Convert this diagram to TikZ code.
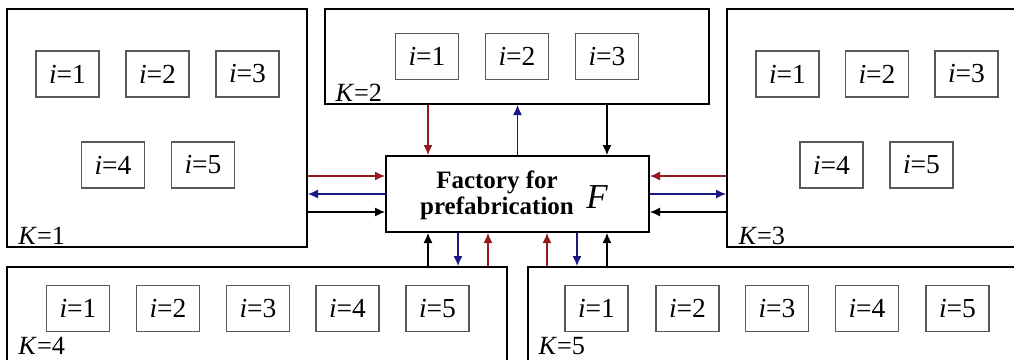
\documentclass[tikz,border=0pt]{standalone}
\usepackage{fontspec}
\setmainfont{Liberation Serif}
\usetikzlibrary{arrows.meta, positioning, calc}
\definecolor{flowred}{RGB}{150,25,30}
\definecolor{flowblue}{RGB}{25,25,130}

\begin{document}
\begin{tikzpicture}[x=0.4pt, y=-0.4pt,
    site/.style={draw, line width=0.8pt, inner sep=0pt},
    unit/.style={draw=black!65, line width=0.5pt, minimum width=25.2pt, minimum height=18.4pt, inner sep=0pt, font=\fontsize{11}{13}\selectfont},
    tag/.style={anchor=base west, inner sep=0pt, font=\fontsize{10.5}{12}\selectfont},
    flow/.style={-{Latex[length=4pt, width=3.6pt]}, line width=0.5pt}]
    \clip (0,0) rectangle (1014,360);
    % sites K=1..5
    \node[site, minimum width=120pt, minimum height=95.2pt] (k1) at (157,128) {};
    \node[site, minimum width=153.6pt, minimum height=38pt] (k2) at (517,56.5) {};
    \node[site, minimum width=121.2pt, minimum height=95.2pt] (k3) at (878.5,128) {};
    \node[site, minimum width=200pt, minimum height=49.2pt] (k4) at (257,328.5) {};
    \node[site, minimum width=200.8pt, minimum height=49.2pt] (k5) at (779,328.5) {};
    \node[tag] (k1lab) at (18,244) {\textit{K}=1};
    \node[tag] (k2lab) at (335,101) {\textit{K}=2};
    \node[tag] (k3lab) at (738,244) {\textit{K}=3};
    \node[tag] (k4lab) at (18,354) {\textit{K}=4};
    \node[tag] (k5lab) at (538,354) {\textit{K}=5};
    % units i
    \foreach \n/\x in {1/67.5, 2/157.5, 3/247.5}
        \node[unit] (k1u\n) at (\x,74) {\textit{i}=\n};
    \foreach \n/\x in {4/113, 5/203}
        \node[unit] (k1u\n) at (\x,165) {\textit{i}=\n};
    \foreach \n/\x in {1/427, 2/517, 3/607}
        \node[unit] (k2u\n) at (\x,56.5) {\textit{i}=\n};
    \foreach \n/\x in {1/787.5, 2/877, 3/966.5}
        \node[unit] (k3u\n) at (\x,74) {\textit{i}=\n};
    \foreach \n/\x in {4/831.5, 5/921.5}
        \node[unit] (k3u\n) at (\x,165) {\textit{i}=\n};
    \foreach \n/\x in {1/78, 2/168, 3/258, 4/347.5, 5/437.5}
        \node[unit] (k4u\n) at (\x,308.5) {\textit{i}=\n};
    \foreach \n/\x in {1/596.5, 2/687.5, 3/777, 4/867, 5/957.5}
        \node[unit] (k5u\n) at (\x,308.5) {\textit{i}=\n};
    % factory
    \node[site, minimum width=105.2pt, minimum height=30.4pt] (fac) at (517.5,194) {};
    \node[font=\bfseries\fontsize{10}{10.4}\selectfont, align=center] (factxt) at (497,195) {Factory for\\prefabrication};
    \node[font=\itshape\fontsize{14}{14}\selectfont] (facsym) at (597,197) {F};
    % flows
    \coordinate (wr) at ([yshift=7.2pt]fac.west);
    \coordinate (wb) at (fac.west);
    \coordinate (wk) at ([yshift=-7.2pt]fac.west);
    \coordinate (er) at ([yshift=7.2pt]fac.east);
    \coordinate (eb) at (fac.east);
    \coordinate (ek) at ([yshift=-7.2pt]fac.east);
    \coordinate (nr) at ([xshift=-35.8pt]fac.north);
    \coordinate (nb) at (fac.north);
    \coordinate (nk) at ([xshift=35.8pt]fac.north);
    \coordinate (s1) at ([xshift=-35.8pt]fac.south);
    \coordinate (s2) at ([xshift=-23.8pt]fac.south);
    \coordinate (s3) at ([xshift=-11.8pt]fac.south);
    \coordinate (s4) at ([xshift=11.8pt]fac.south);
    \coordinate (s5) at ([xshift=23.8pt]fac.south);
    \coordinate (s6) at ([xshift=35.8pt]fac.south);
    \draw[flow, flowred] (k1.east |- wr) -- (wr);
    \draw[flow, flowblue] (wb) -- (k1.east |- wb);
    \draw[flow] (k1.east |- wk) -- (wk);
    \draw[flow, flowred] (k3.west |- er) -- (er);
    \draw[flow, flowblue] (eb) -- (k3.west |- eb);
    \draw[flow] (k3.west |- ek) -- (ek);
    \draw[flow, flowred] (k2.south -| nr) -- (nr);
    \draw[flow, flowblue] (nb) -- (k2.south -| nb);
    \draw[flow] (k2.south -| nk) -- (nk);
    \draw[flow] (k4.north -| s1) -- (s1);
    \draw[flow, flowblue] (s2) -- (k4.north -| s2);
    \draw[flow, flowred] (k4.north -| s3) -- (s3);
    \draw[flow, flowred] (k5.north -| s4) -- (s4);
    \draw[flow, flowblue] (s5) -- (k5.north -| s5);
    \draw[flow] (k5.north -| s6) -- (s6);
\end{tikzpicture}
\end{document}
